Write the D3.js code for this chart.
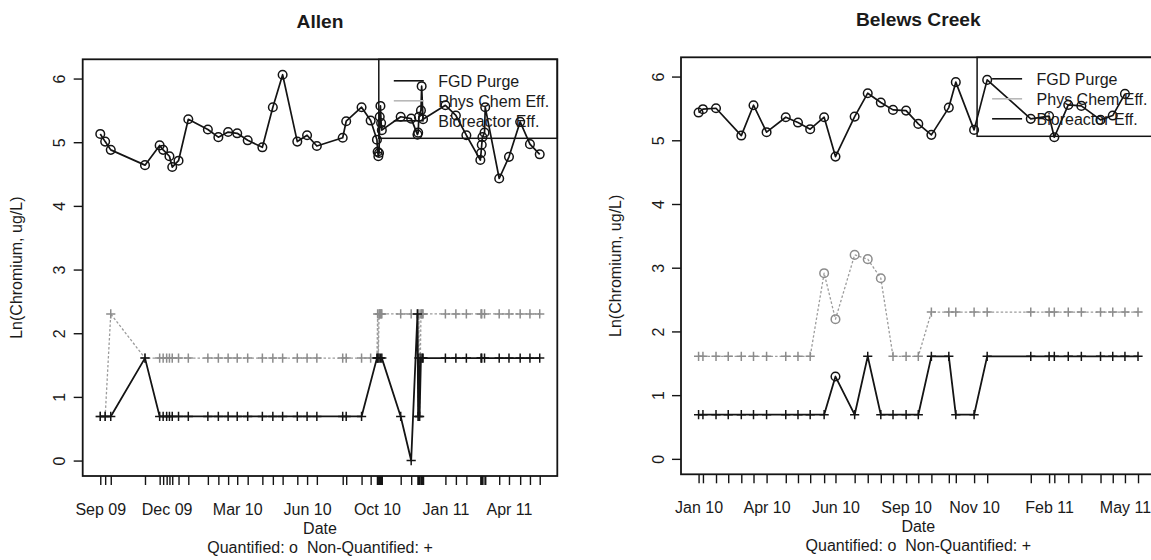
<!DOCTYPE html>
<html><head><meta charset="utf-8">
<script src="https://cdn.jsdelivr.net/npm/d3@7"></script>
<style>
body{margin:0;background:#fff;}
svg{display:block;}
text{font-family:"Liberation Sans",Arial,sans-serif;fill:#1a1a1a;}
</style>
</head><body>
<svg id="c" width="1151" height="560"></svg>
<script>
// ---------------- DATA ----------------
const panelTitles = ["Allen", "Belews Creek"];
const seriesNames = ["FGD Purge", "Phys Chem Eff.", "Bioreactor Eff."];
const yTickValues = [0, 1, 2, 3, 4, 5, 6];
const yTitle = "Ln(Chromium, ug/L)";
const xTitle = "Date";
const noteText = "Quantified: o  Non-Quantified: +";

// Allen
const allenFgdDates = ["2009-09-03","2009-09-10","2009-09-18","2009-11-06","2009-11-27","2009-12-02","2009-12-11","2009-12-15","2009-12-24",
  "2010-01-07","2010-02-04","2010-02-19","2010-03-05","2010-03-18","2010-04-02","2010-04-23","2010-05-08","2010-05-22","2010-06-12","2010-06-26","2010-07-10","2010-08-16","2010-08-21","2010-09-12","2010-09-25",
  "2010-10-04","2010-10-05","2010-10-06","2010-10-07","2010-10-08","2010-10-09","2010-10-10","2010-10-11",
  "2010-11-07","2010-11-22",
  "2010-12-01","2010-12-02","2010-12-03","2010-12-06","2010-12-07","2010-12-09",
  "2011-01-10","2011-01-25","2011-02-09","2011-03-01",
  "2011-03-02","2011-03-03","2011-03-04","2011-03-07","2011-03-08",
  "2011-03-28","2011-04-11","2011-04-27","2011-05-11","2011-05-25"];
const allenFgdValues = [5.13,5.01,4.88,4.64,4.95,4.88,4.78,4.61,4.71,
  5.36,5.20,5.08,5.16,5.14,5.03,4.92,5.55,6.06,5.01,5.11,4.94,5.07,5.33,5.55,5.34,
  5.04,4.85,4.78,4.83,5.40,5.57,5.30,5.19,
  5.40,5.37,
  5.12,5.15,5.40,5.50,5.88,5.36,
  5.58,5.42,5.11,4.72,
  4.83,4.96,5.08,5.15,5.55,
  4.43,4.77,5.32,4.97,4.81];
const allenFgdQuant = allenFgdValues.map(() => true);

const allenPhysDates = ["2009-09-03","2009-09-10","2009-09-18","2009-11-06","2009-11-27","2009-12-02","2009-12-07","2009-12-11","2009-12-15","2009-12-24",
  "2010-01-07","2010-02-04","2010-02-19","2010-03-05","2010-03-18","2010-04-02","2010-04-23","2010-05-08","2010-05-22","2010-06-12","2010-06-26","2010-07-10","2010-08-16","2010-08-21","2010-09-12","2010-09-25",
  "2010-10-04","2010-10-05","2010-10-06","2010-10-07","2010-10-08","2010-10-09","2010-10-10","2010-10-11",
  "2010-11-07","2010-11-22",
  "2010-12-01","2010-12-02","2010-12-03","2010-12-04","2010-12-06","2010-12-07","2010-12-08","2010-12-09",
  "2011-01-10","2011-01-25","2011-02-09","2011-03-02","2011-03-03","2011-03-07","2011-03-28","2011-04-11","2011-04-27","2011-05-11","2011-05-25"];
const allenPhysValues = [0.693,0.693,2.303,1.609,1.609,1.609,1.609,1.609,1.609,1.609,
  1.609,1.609,1.609,1.609,1.609,1.609,1.609,1.609,1.609,1.609,1.609,1.609,1.609,1.609,1.609,1.609,
  1.609,2.303,1.609,2.303,2.303,2.303,2.303,2.303,
  2.303,2.303,
  2.303,0.693,2.303,0.693,2.303,2.303,2.303,2.303,
  2.303,2.303,2.303,2.303,2.303,2.303,2.303,2.303,2.303,2.303,2.303];
const allenPhysQuant = allenPhysValues.map(() => false);

const allenBioDates = ["2009-09-03","2009-09-10","2009-09-18","2009-11-06","2009-11-27","2009-12-02","2009-12-07","2009-12-11","2009-12-15","2009-12-24",
  "2010-01-07","2010-02-04","2010-02-19","2010-03-05","2010-03-18","2010-04-02","2010-04-23","2010-05-08","2010-05-22","2010-06-12","2010-06-26","2010-07-10","2010-08-16","2010-08-21","2010-09-12",
  "2010-10-04","2010-10-05","2010-10-07","2010-10-09","2010-10-11",
  "2010-11-07","2010-11-22",
  "2010-12-01","2010-12-02","2010-12-03","2010-12-04","2010-12-06","2010-12-08","2010-12-09",
  "2011-01-10","2011-01-25","2011-02-09","2011-03-02","2011-03-03","2011-03-07","2011-03-28","2011-04-11","2011-04-27","2011-05-11","2011-05-25"];
const allenBioValues = [0.693,0.693,0.693,1.609,0.693,0.693,0.693,0.693,0.693,0.693,
  0.693,0.693,0.693,0.693,0.693,0.693,0.693,0.693,0.693,0.693,0.693,0.693,0.693,0.693,0.693,
  1.609,1.609,1.609,1.609,1.609,
  0.693,0,
  2.303,0.693,1.609,0.693,1.609,1.609,1.609,
  1.609,1.609,1.609,1.609,1.609,1.609,1.609,1.609,1.609,1.609,1.609];
const allenBioQuant = allenBioValues.map(() => false);

const allenLabelDates = ["2009-09-03","2009-12-07","2010-03-18","2010-06-26","2010-10-04","2011-01-10","2011-04-11"];

// Belews Creek
const belewsFgdDates = ["2010-01-15","2010-01-20","2010-02-04","2010-03-05","2010-03-19","2010-04-03","2010-04-25","2010-05-09","2010-05-23","2010-06-08",
  "2010-06-21","2010-07-13","2010-07-28","2010-08-12","2010-08-26","2010-09-10","2010-09-24","2010-10-09","2010-10-29","2010-11-06",
  "2010-11-27","2010-12-12","2011-01-31","2011-02-21","2011-02-27","2011-03-15","2011-03-30","2011-04-21","2011-05-05","2011-05-19"];
const belewsFgdValues = [5.435,5.488,5.503,5.074,5.55,5.127,5.362,5.278,5.174,5.362,
  4.744,5.372,5.739,5.592,5.477,5.466,5.257,5.085,5.513,5.912,
  5.163,5.948,5.336,5.38,5.048,5.555,5.54,5.32,5.388,5.728];
const belewsFgdQuant = belewsFgdValues.map(() => true);

const belewsDates = ["2010-01-15","2010-01-20","2010-02-04","2010-02-18","2010-03-05","2010-03-19","2010-04-03","2010-04-25","2010-05-09","2010-05-23",
  "2010-06-08","2010-06-21","2010-07-13","2010-07-28","2010-08-12","2010-08-26","2010-09-10","2010-09-24","2010-10-09","2010-10-29",
  "2010-11-06","2010-11-27","2010-12-12","2011-01-31","2011-02-21","2011-02-27","2011-03-15","2011-03-30","2011-04-21","2011-05-05","2011-05-19","2011-06-03"];
const belewsPhysValues = [1.609,1.609,1.609,1.609,1.609,1.609,1.609,1.609,1.609,1.609,
  2.914,2.192,3.201,3.134,2.835,1.609,1.609,1.609,2.303,2.303,
  2.303,2.303,2.303,2.303,2.303,2.303,2.303,2.303,2.303,2.303,2.303,2.303];
const belewsPhysQuant = [false,false,false,false,false,false,false,false,false,false,
  true,true,true,true,true,false,false,false,false,false,
  false,false,false,false,false,false,false,false,false,false,false,false];
const belewsBioValues = [0.693,0.693,0.693,0.693,0.693,0.693,0.693,0.693,0.693,0.693,
  0.693,1.292,0.693,1.609,0.693,0.693,0.693,0.693,1.609,1.609,
  0.693,0.693,1.609,1.609,1.609,1.609,1.609,1.609,1.609,1.609,1.609,1.609];
const belewsBioQuant = [false,false,false,false,false,false,false,false,false,false,
  false,true,false,false,false,false,false,false,false,false,
  false,false,false,false,false,false,false,false,false,false,false,false];

const belewsLabelDates = ["2010-01-15","2010-04-03","2010-06-21","2010-09-10","2010-11-27","2011-02-21","2011-05-19"];

// ---------------- DRAWING ----------------
const parse = d3.timeParse("%Y-%m-%d");
const fmt = d3.timeFormat("%b %y");
const svg = d3.select("#c");
const FS = 16;
const BLACK = "#141414", GRAY = "#9c9c9c", LGRAY = "#b8b8b8";

function mk(dates, vals, q) { return dates.map((d, i) => ({date: parse(d), v: vals[i], q: q[i]})); }

const panels = [
  { title: panelTitles[0], box: {l: 82.7, r: 557.3, t: 59.3, b: 476}, titleY: 28.3,
    series: [mk(allenFgdDates, allenFgdValues, allenFgdQuant),
             mk(allenPhysDates, allenPhysValues, allenPhysQuant),
             mk(allenBioDates, allenBioValues, allenBioQuant)],
    labels: allenLabelDates.map(parse) },
  { title: panelTitles[1], box: {l: 681, r: 1155.6, t: 57.3, b: 474.3}, titleY: 25.5,
    series: [mk(belewsFgdDates, belewsFgdValues, belewsFgdQuant),
             mk(belewsDates, belewsPhysValues, belewsPhysQuant),
             mk(belewsDates, belewsBioValues, belewsBioQuant)],
    labels: belewsLabelDates.map(parse) }
];

// shared ylim like R: range of all values, padded 4%
const allVals = panels.flatMap(p => p.series.flatMap(s => s.map(d => d.v)));
const yExt = d3.extent(allVals);
const yPad = (yExt[1] - yExt[0]) * 0.04;
const yDomain = [yExt[0] - yPad, yExt[1] + yPad];

const styles = [
  {line: BLACK, mark: BLACK, dash: null, w: 1.7},
  {line: GRAY, mark: "#8c8c8c", dash: "2.5,2", w: 1.3},
  {line: BLACK, mark: BLACK, dash: null, w: 1.8}
];

panels.forEach(p => {
  const B = p.box;
  const g = svg.append("g");
  const allDatesMs = Array.from(new Set(p.series.flatMap(s => s.map(d => +d.date)))).sort((a, b) => a - b);
  const span = allDatesMs[allDatesMs.length - 1] - allDatesMs[0];
  const x = d3.scaleTime()
    .domain([new Date(allDatesMs[0] - 0.04 * span), new Date(allDatesMs[allDatesMs.length - 1] + 0.04 * span)])
    .range([B.l, B.r]);
  const y = d3.scaleLinear().domain(yDomain).range([B.b, B.t]);

  // y axis
  const ya = g.append("g").attr("transform", `translate(${B.l},0)`)
    .call(d3.axisLeft(y).tickValues(yTickValues).tickSize(9).tickFormat(d3.format("d")));
  ya.select(".domain").remove();
  ya.selectAll("line").attr("stroke", BLACK).attr("stroke-width", 1.4);
  ya.selectAll("text").attr("x", null).attr("dy", null)
    .attr("transform", "translate(-23,0) rotate(-90)")
    .attr("text-anchor", "middle").attr("dominant-baseline", "central")
    .style("font-size", FS + "px").style("font-family", '"Liberation Sans",Arial,sans-serif').attr("fill", "#1a1a1a");

  // x axis ticks at each sample date
  const xa = g.append("g").attr("transform", `translate(0,${B.b})`)
    .call(d3.axisBottom(x).tickValues(allDatesMs.map(d => new Date(d))).tickSize(9).tickFormat(""));
  xa.select(".domain").remove();
  xa.selectAll("line").attr("stroke", BLACK).attr("stroke-width", 1.4);
  // x labels
  const xl = g.append("g").attr("transform", `translate(0,${B.b})`)
    .call(d3.axisBottom(x).tickValues(p.labels).tickSize(0).tickPadding(27.5).tickFormat(fmt));
  xl.select(".domain").remove();
  xl.selectAll("text").style("font-size", FS + "px").style("font-family", '"Liberation Sans",Arial,sans-serif').attr("fill", "#1a1a1a");

  // series
  const clipId = "clip" + Math.round(B.l);
  svg.append("clipPath").attr("id", clipId).append("rect")
    .attr("x", B.l).attr("y", B.t).attr("width", B.r - B.l).attr("height", B.b - B.t);
  const plot = g.append("g").attr("clip-path", `url(#${clipId})`);
  const line = d3.line().x(d => x(d.date)).y(d => y(d.v));
  p.series.forEach((s, i) => {
    const st = styles[i];
    plot.append("path").datum(s).attr("d", line).attr("fill", "none")
      .attr("stroke", st.line).attr("stroke-width", st.w)
      .attr("stroke-dasharray", st.dash).attr("stroke-linejoin", "round");
    plot.selectAll(null).data(s.filter(d => d.q)).enter().append("circle")
      .attr("cx", d => x(d.date)).attr("cy", d => y(d.v)).attr("r", 4.3)
      .attr("fill", "none").attr("stroke", st.mark).attr("stroke-width", 1.5);
    plot.selectAll(null).data(s.filter(d => !d.q)).enter().append("path")
      .attr("transform", d => `translate(${x(d.date)},${y(d.v)})`)
      .attr("d", "M-4.6,0H4.6M0,-4.6V4.6")
      .attr("stroke", st.mark).attr("stroke-width", 1.5);
  });

  // box
  g.append("rect").attr("x", B.l).attr("y", B.t).attr("width", B.r - B.l).attr("height", B.b - B.t)
    .attr("fill", "none").attr("stroke", BLACK).attr("stroke-width", 1.8);

  // legend (transparent, top right)
  const LW = 178.5, LH = 79;
  const lg = g.append("g").attr("transform", `translate(${B.r - LW},${B.t})`);
  lg.append("rect").attr("x", 0).attr("y", 0).attr("width", LW).attr("height", LH)
    .attr("fill", "none").attr("stroke", BLACK).attr("stroke-width", 1.5);
  const legColors = [BLACK, LGRAY, BLACK];
  seriesNames.forEach((n, i) => {
    const yy = 21.5 + i * 20;
    lg.append("line").attr("x1", 15).attr("x2", 45).attr("y1", yy).attr("y2", yy)
      .attr("stroke", legColors[i]).attr("stroke-width", 1.6);
    lg.append("text").attr("x", 59.5).attr("y", yy).attr("dy", "0.36em")
      .style("font-size", FS + "px").text(n);
  });

  // titles
  const cx = (B.l + B.r) / 2;
  g.append("text").attr("x", cx).attr("y", p.titleY).attr("text-anchor", "middle")
    .style("font-size", "19.2px").style("font-weight", "bold").text(p.title);
  g.append("text").attr("x", cx).attr("y", B.b + 58).attr("text-anchor", "middle")
    .style("font-size", FS + "px").text(xTitle);
  g.append("text").attr("x", cx).attr("y", B.b + 77).attr("text-anchor", "middle")
    .style("font-size", FS + "px").style("white-space", "pre").text(noteText);
  const cy = (B.t + B.b) / 2;
  g.append("text").attr("transform", `translate(${B.l - 66},${cy}) rotate(-90)`)
    .attr("text-anchor", "middle").attr("dominant-baseline", "central")
    .style("font-size", FS + "px").text(yTitle);
});
</script>
</body></html>
